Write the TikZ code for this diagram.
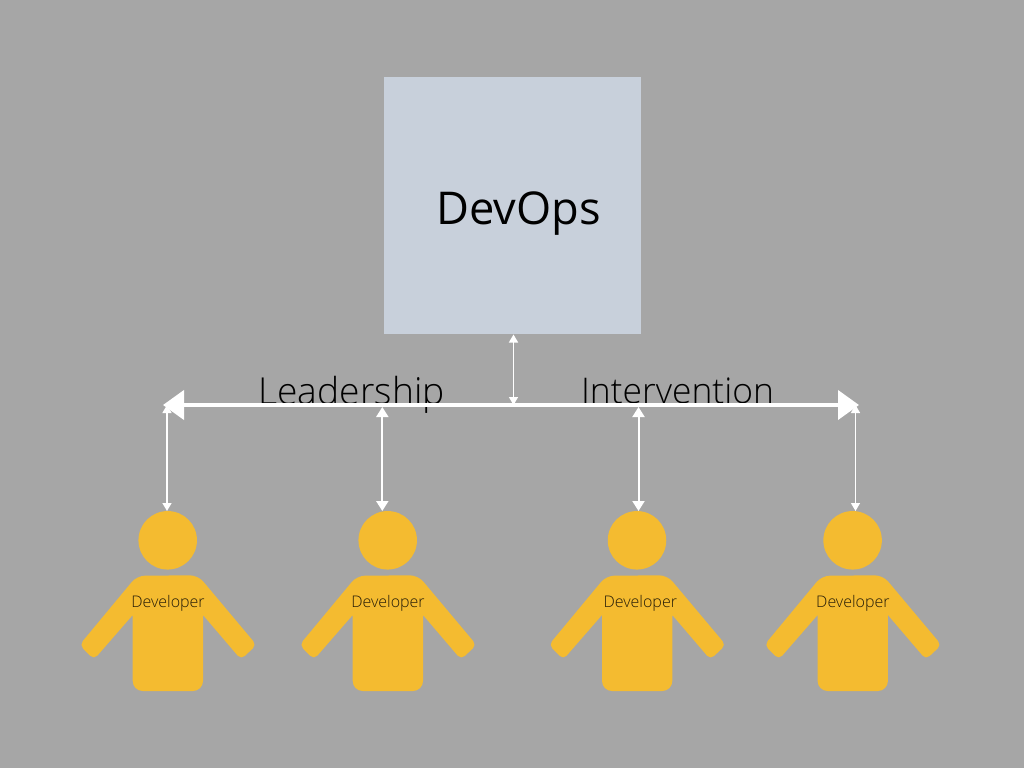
\documentclass[tikz,border=0pt]{standalone}
\usepackage{fontspec}
\setmainfont{Open Sans}
\newfontfamily\oslight{Open Sans Light}
\usetikzlibrary{arrows.meta}
\definecolor{bgc}{HTML}{A6A6A6}
\definecolor{boxc}{HTML}{C8D0DB}
\definecolor{personc}{HTML}{F4BB30}
\tikzset{
  x=1pt,y=-1pt,
  devbox/.style={fill=boxc,draw=none,minimum width=257.5pt,minimum height=257.5pt,inner sep=0pt},
  headdisc/.style={circle,fill=personc,draw=none,minimum size=58.5pt,inner sep=0pt},
  bodyshape/.style={fill=personc,draw=none},
  biglabel/.style={font=\oslight\fontsize{#1}{40}\selectfont,text=black,inner sep=0pt,anchor=base},
  devlabel/.style={font=\oslight\fontsize{16}{18}\selectfont,text=black!85!personc,inner sep=0pt,anchor=base},
  mainbar/.style={draw=white,line width=4pt,{Triangle[length=21pt,width=29pt]}-{Triangle[length=21pt,width=29pt]}},
  linkthin/.style={draw=white,line width=1.4pt,{Triangle[length=8pt,width=9pt]}-{Triangle[length=8pt,width=9pt]}},
  linkthick/.style={draw=white,line width=2pt,{Triangle[length=10pt,width=12pt]}-{Triangle[length=10pt,width=12pt]}},
}
\newcommand{\personat}[3]{%
  \begin{scope}[xshift=#1pt]
    \node[headdisc] (head#2) at (167.7,540.3) {};
    \path[bodyshape] (132.7,615) [rounded corners=0pt] -- (132.7,650)
      [rounded corners=10pt] -- (132.7,691) -- (203,691)
      [rounded corners=0pt] -- (203,615)
      [rounded corners=5pt] -- (241,659.5) -- (256.5,645)
      [rounded corners=8pt] -- (198,575.3) -- (137,575.7)
      [rounded corners=5pt] -- (79.5,645) -- (94,659.5)
      [rounded corners=0pt] -- cycle;
    \node[devlabel] (dev#2) at (#3,607) {Developer};
  \end{scope}}
\begin{document}
\begin{tikzpicture}
  \useasboundingbox (0,0) rectangle (1024,768);
  \fill[bgc] (0,0) rectangle (1024,768);
  \node[devbox] (devops) at (512.4,205.3) {};
  \node[font=\fontsize{45.2}{50}\selectfont,text=black,inner sep=0pt,anchor=base] (devtext) at (518.7,224) {DevOps};
  \personat{0}{a}{168}
  \personat{220}{b}{168}
  \personat{469.3}{c}{171}
  \personat{684.9}{d}{168}
  \node[biglabel=37.2] (lead) at (351.5,404) {Leadership};
  \node[biglabel=35.4] (interv) at (677.5,403) {Intervention};
  \coordinate (barl) at (163,405);
  \coordinate (barr) at (859,405);
  \draw[mainbar] (barl) -- (barr);
  \coordinate (b1) at (167,405);
  \coordinate (e1) at (167,511);
  \coordinate (b2) at (382.3,407);
  \coordinate (e2) at (382.3,511);
  \coordinate (b3) at (638.5,407);
  \coordinate (e3) at (638.5,511);
  \coordinate (b4) at (855.5,405);
  \coordinate (e4) at (855.5,511);
  \coordinate (top) at (513.5,334.5);
  \coordinate (topb) at (513.5,405);
  \draw[linkthin] (top) -- (topb);
  \draw[linkthin] (b1) -- (e1);
  \draw[linkthick] (b2) -- (e2);
  \draw[linkthick] (b3) -- (e3);
  \draw[linkthin] (b4) -- (e4);
\end{tikzpicture}
\end{document}
